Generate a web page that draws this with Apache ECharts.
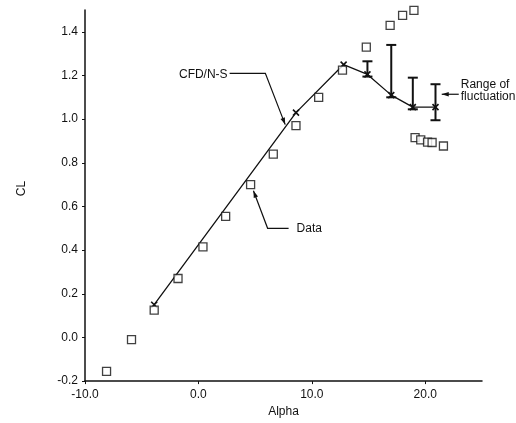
<!DOCTYPE html>
<html>
<head>
<meta charset="utf-8">
<script src="https://cdn.jsdelivr.net/npm/echarts@6/dist/echarts.min.js"></script>
<style>
  html, body { margin: 0; padding: 0; background: #fff; }
  #chart { width: 516px; height: 423px; }
</style>
</head>
<body>
<div id="chart"></div>
<script>
// measured lift coefficient (open squares)
const dataAlpha = [-8.1, -5.9, -3.9, -1.8, 0.4, 2.4, 4.6, 6.6, 8.6, 10.6, 12.7, 14.8, 16.9, 18.0, 19.0,
                   19.1, 19.6, 20.2, 20.6, 21.6];
const dataCL = [-0.155, -0.01, 0.125, 0.27, 0.415, 0.555, 0.70, 0.84, 0.97, 1.10, 1.225, 1.33, 1.43, 1.475, 1.498,
                0.915, 0.905, 0.895, 0.893, 0.877];

// CFD / Navier-Stokes (line with x markers)
const cfdAlpha = [-3.9, 8.6, 12.8, 14.9, 17.0, 18.9, 20.9];
const cfdCL = [0.15, 1.03, 1.25, 1.205, 1.11, 1.055, 1.055];

// range of fluctuation
const rangeAlpha = [14.9, 17.0, 18.9, 20.9];
const rangeLow = [1.195, 1.10, 1.045, 0.995];
const rangeHigh = [1.265, 1.34, 1.19, 1.16];

const xTicks = [-10, 0, 10, 20];
const yTicks = [-0.2, 0, 0.2, 0.4, 0.6, 0.8, 1.0, 1.2, 1.4];

// annotation leaders, in data units
const notes = [
  { text: 'CFD/N-S', path: [[2.75, 1.21], [5.9, 1.21], [7.65, 0.975]], side: 'left' },
  { text: 'Data', path: [[7.95, 0.5], [6.1, 0.5], [4.85, 0.672]], side: 'right' },
  { text: 'Range of\nfluctuation', path: [[22.95, 1.114], [21.45, 1.114]], side: 'range' }
];

const ink = '#111';
const font = 'Liberation Sans, Arial, sans-serif';

const chart = echarts.init(document.getElementById('chart'), null, { renderer: 'canvas' });

function arrowHead(p, q) {
  // triangle at q pointing along p->q
  const dx = q[0] - p[0], dy = q[1] - p[1];
  const len = Math.sqrt(dx * dx + dy * dy) || 1;
  const ux = dx / len, uy = dy / len;
  const L = 7, W = 2.3;
  const bx = q[0] - ux * L, by = q[1] - uy * L;
  return [q, [bx - uy * W, by + ux * W], [bx + uy * W, by - ux * W]];
}

chart.setOption({
  animation: false,
  backgroundColor: '#fff',
  grid: { left: 85, right: 34, top: 10, bottom: 37 },
  xAxis: {
    type: 'value', min: -10, max: 25, interval: 10,
    name: 'Alpha', nameLocation: 'middle', nameGap: 22,
    nameTextStyle: { fontFamily: font, fontSize: 12, color: ink },
    axisLine: { show: true, onZero: false, lineStyle: { color: ink, width: 1.5 } },
    axisTick: { show: true, length: 3, customValues: xTicks, lineStyle: { color: ink } },
    axisLabel: { customValues: xTicks, margin: 8, fontFamily: font, fontSize: 12, color: ink,
                 formatter: v => v.toFixed(1) },
    splitLine: { show: false }
  },
  yAxis: {
    type: 'value', min: -0.2, max: 1.5, interval: 0.2,
    name: 'CL', nameLocation: 'middle', nameGap: 57, nameRotate: 90,
    nameTextStyle: { fontFamily: font, fontSize: 12, color: ink, padding: [0, 0, 0, 14] },
    axisLine: { show: true, onZero: false, lineStyle: { color: ink, width: 1.5 } },
    axisTick: { show: true, length: 3, customValues: yTicks, lineStyle: { color: ink } },
    axisLabel: { customValues: yTicks, margin: 7, fontFamily: font, fontSize: 12, color: ink,
                 formatter: v => v.toFixed(1) },
    splitLine: { show: false }
  },
  series: [
    {
      type: 'line',
      data: cfdAlpha.map((a, i) => [a, cfdCL[i]]),
      symbol: 'path://M0,0L10,10M10,0L0,10',
      symbolSize: 6,
      showAllSymbol: true,
      lineStyle: { color: ink, width: 1.3 },
      itemStyle: { color: 'none', borderColor: ink, borderWidth: 1.6 },
      z: 3
    },
    {
      type: 'custom',
      data: rangeAlpha.map((a, i) => [a, rangeLow[i], rangeHigh[i]]),
      renderItem: (params, api) => {
        const lo = api.coord([api.value(0), api.value(1)]);
        const hi = api.coord([api.value(0), api.value(2)]);
        const c = 5;
        const st = { stroke: ink, lineWidth: 2 };
        return {
          type: 'group',
          children: [
            { type: 'line', shape: { x1: lo[0], y1: lo[1], x2: hi[0], y2: hi[1] }, style: st },
            { type: 'line', shape: { x1: hi[0] - c, y1: hi[1], x2: hi[0] + c, y2: hi[1] }, style: st },
            { type: 'line', shape: { x1: lo[0] - c, y1: lo[1], x2: lo[0] + c, y2: lo[1] }, style: st }
          ]
        };
      },
      z: 4
    },
    {
      type: 'scatter',
      data: dataAlpha.map((a, i) => [a, dataCL[i]]),
      symbol: 'rect',
      symbolSize: 8,
      itemStyle: { color: '#fff', borderColor: ink, borderWidth: 1.3 },
      z: 5
    },
    {
      type: 'custom',
      data: notes.map((n, i) => [i]),
      renderItem: (params, api) => {
        const n = notes[params.dataIndex];
        const pts = n.path.map(p => api.coord(p));
        const last = pts[pts.length - 1], prev = pts[pts.length - 2];
        const first = pts[0];
        let text;
        if (n.side === 'left') {
          text = { x: first[0] - 2, y: first[1] + 1, align: 'right', va: 'middle' };
        } else if (n.side === 'right') {
          text = { x: first[0] + 8, y: first[1], align: 'left', va: 'middle' };
        } else {
          text = { x: first[0] + 2, y: first[1] - 4, align: 'left', va: 'middle' };
        }
        return {
          type: 'group',
          children: [
            { type: 'polyline', shape: { points: pts }, style: { stroke: ink, lineWidth: 1.2, fill: null } },
            { type: 'polygon', shape: { points: arrowHead(prev, last) }, style: { fill: ink } },
            { type: 'text', x: text.x, y: text.y,
              style: { text: n.text, fill: ink, font: '12px ' + font, align: text.align,
                       verticalAlign: text.va, lineHeight: 12 } }
          ]
        };
      },
      z: 6
    }
  ]
});
</script>
</body>
</html>
